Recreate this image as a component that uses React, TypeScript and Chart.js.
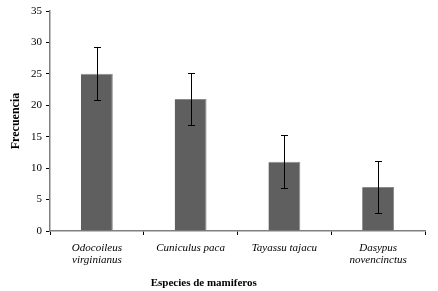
import React, { useEffect, useRef } from "react";
import { Chart, registerables } from "chart.js";

Chart.register(...registerables);

const categories: string[][] = [
  ["Odocoileus", "virginianus"],
  ["Cuniculus paca"],
  ["Tayassu tajacu"],
  ["Dasypus", "novencinctus"],
];
const frequencies: number[] = [25, 21, 11, 7];
const errors: number[] = [4.2, 4.2, 4.2, 4.2];
const yTicks: number[] = [0, 5, 10, 15, 20, 25, 30, 35];
const xTitle = "Especies de mamiferos";
const yTitle = "Frecuencia";

const errorBarPlugin = {
  id: "errorBars",
  afterDatasetsDraw(chart: any) {
    const ctx = chart.ctx;
    const meta = chart.getDatasetMeta(0);
    const yScale = chart.scales.y;
    ctx.save();
    ctx.strokeStyle = "#000000";
    ctx.lineWidth = 1;
    meta.data.forEach((bar: any, i: number) => {
      const v = frequencies[i];
      const e = errors[i];
      const x = Math.round(bar.x) + 0.5;
      const yTop = Math.round(yScale.getPixelForValue(v + e)) + 0.5;
      const yBot = Math.round(yScale.getPixelForValue(v - e)) + 0.5;
      ctx.beginPath();
      ctx.moveTo(x, yTop);
      ctx.lineTo(x, yBot);
      ctx.moveTo(x - 3.5, yTop);
      ctx.lineTo(x + 3.5, yTop);
      ctx.moveTo(x - 3.5, yBot);
      ctx.lineTo(x + 3.5, yBot);
      ctx.stroke();
    });
    ctx.restore();
  },
};

const xTitlePlugin = {
  id: "xTitle",
  afterDraw(chart: any) {
    const ctx = chart.ctx;
    const area = chart.chartArea;
    ctx.save();
    ctx.fillStyle = "#000000";
    ctx.font = "bold 11px 'Liberation Serif', serif";
    ctx.textAlign = "center";
    ctx.textBaseline = "middle";
    ctx.fillText(xTitle, area.left + (area.right - area.left) * 0.41, area.bottom + 52);
    ctx.restore();
  },
};

export default function App() {
  const ref = useRef<HTMLCanvasElement | null>(null);
  useEffect(() => {
    document.body.style.margin = "0";
    const canvas = ref.current;
    if (!canvas) return;
    const chart = new Chart(canvas, {
      type: "bar",
      data: {
        labels: categories,
        datasets: [
          {
            data: frequencies,
            backgroundColor: "#5f5f5f",
            borderColor: "#8a8a8a",
            borderWidth: { top: 1, left: 0, right: 1, bottom: 0 },
            categoryPercentage: 1,
            barPercentage: 0.34,
          },
        ],
      },
      options: {
        animation: false,
        responsive: false,
        maintainAspectRatio: false,
        layout: { padding: { top: 11, right: 13, left: 0, bottom: 0 } },
        plugins: {
          legend: { display: false },
          tooltip: { enabled: false },
        },
        scales: {
          x: {
            grid: {
              display: true,
              drawOnChartArea: false,
              drawTicks: true,
              tickLength: 4,
              color: "#000000",
              offset: true,
            },
            border: { color: "#808080", width: 1.5 },
            ticks: {
              color: "#000000",
              padding: 7,
              maxRotation: 0,
              autoSkip: false,
              font: { family: "'Liberation Serif', serif", size: 11, style: "italic", lineHeight: 1.1 },
            },
            afterFit(scale: any) {
              scale.height = 60;
            },
          },
          y: {
            min: 0,
            max: 35,
            afterBuildTicks(scale: any) {
              scale.ticks = yTicks.map((v) => ({ value: v }));
            },
            grid: {
              display: true,
              drawOnChartArea: false,
              drawTicks: true,
              tickLength: 4,
              color: "#000000",
            },
            border: { color: "#808080", width: 1.5 },
            ticks: {
              color: "#000000",
              padding: 4,
              font: { family: "'Liberation Serif', serif", size: 11 },
            },
            title: {
              display: true,
              text: yTitle,
              color: "#000000",
              padding: { top: 9, bottom: 2 },
              font: { family: "'Liberation Serif', serif", size: 12, weight: "bold" },
            },
            afterFit(scale: any) {
              scale.width = 50;
            },
          },
        },
      },
      plugins: [errorBarPlugin, xTitlePlugin],
    });
    return () => chart.destroy();
  }, []);
  return (
    <div style={{ width: 438, height: 291 }}>
      <canvas ref={ref} width={438} height={291} style={{ width: 438, height: 291, display: "block" }} />
    </div>
  );
}
